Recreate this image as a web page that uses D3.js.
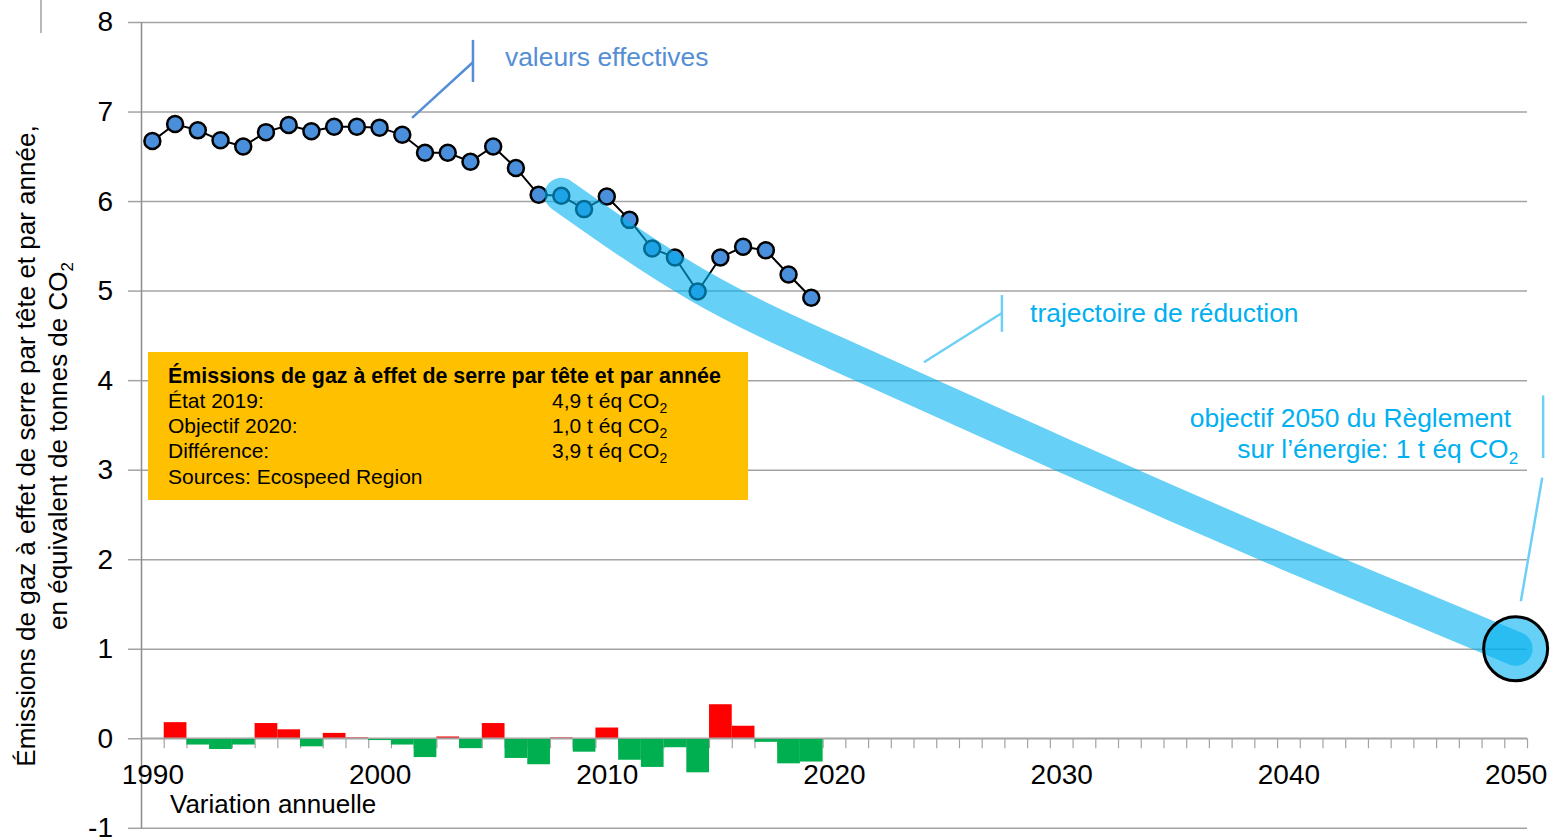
<!DOCTYPE html>
<html><head><meta charset="utf-8">
<script src="https://cdn.jsdelivr.net/npm/d3@7"></script>
<style>
body{margin:0;background:#fff}
svg{display:block;font-family:"Liberation Sans",Arial,sans-serif}
</style>
</head><body>
<svg id="c" width="1552" height="837"></svg>
<script>
// ---- data ----
const years = [1990,1991,1992,1993,1994,1995,1996,1997,1998,1999,2000,2001,2002,2003,2004,2005,2006,2007,2008,2009,2010,2011,2012,2013,2014,2015,2016,2017,2018,2019];
const emissions = [6.67,6.86,6.79,6.68,6.61,6.77,6.85,6.78,6.83,6.83,6.82,6.74,6.54,6.54,6.44,6.61,6.37,6.07,6.06,5.91,6.05,5.79,5.47,5.37,4.99,5.37,5.49,5.45,5.18,4.92];
const variationYears = [1991,1992,1993,1994,1995,1996,1997,1998,1999,2000,2001,2002,2003,2004,2005,2006,2007,2008,2009,2010,2011,2012,2013,2014,2015,2016,2017,2018,2019];
const variation = [0.18,-0.07,-0.12,-0.07,0.17,0.10,-0.09,0.06,0.01,-0.02,-0.07,-0.21,0.02,-0.11,0.17,-0.22,-0.29,0.01,-0.15,0.12,-0.24,-0.32,-0.10,-0.38,0.38,0.14,-0.04,-0.28,-0.26];
const trajYears = [2008,2011,2014,2017,2020,2025,2030,2035,2040,2045,2050];
const trajValues = [6.07,5.54,5.06,4.66,4.31,3.74,3.17,2.61,2.06,1.53,1.00];
const targetYear = 2050, targetValue = 1.0;
const yTicks = [-1,0,1,2,3,4,5,6,7,8];
const xLabelYears = [1990,2000,2010,2020,2030,2040,2050];
const legendTitle = "Émissions de gaz à effet de serre par tête et par année";
const legendLabels = ["État 2019:","Objectif 2020:","Différence:","Sources: Ecospeed Region"];
const legendValues = ["4,9 t éq CO","1,0 t éq CO","3,9 t éq CO",""];

// ---- scales ----
const svg = d3.select("#c");
const x = d3.scaleLinear().domain([1989.5, 2050.5]).range([141, 1527]);
const y = d3.scaleLinear().domain([-1, 8]).range([827.8, 22]);
const FONT = '"Liberation Sans",Arial,sans-serif';

// stray fragment at top-left
svg.append("line").attr("x1",41).attr("x2",41).attr("y1",0).attr("y2",33)
  .attr("stroke","#a0a0a0").attr("stroke-width",1.5);

// gridlines
const grid = svg.append("g").attr("transform","translate(141,0)")
  .call(d3.axisLeft(y).tickValues(yTicks).tickSize(-(1527-141)).tickFormat("").tickSizeOuter(0));
grid.select(".domain").remove();
grid.selectAll("line").attr("stroke","#a3a3a3").attr("stroke-width",1.5);

// y axis
const ya = svg.append("g").attr("transform","translate(141,0)")
  .call(d3.axisLeft(y).tickValues(yTicks).tickSize(13).tickPadding(15).tickSizeOuter(0).tickFormat(d=>String(d)));
ya.select(".domain").attr("stroke","#8c8c8c").attr("stroke-width",1.5);
ya.selectAll("line").attr("stroke","#a3a3a3").attr("stroke-width",1.5);
ya.selectAll("text").attr("font-size",28).attr("fill","#000").attr("font-family",FONT);

// x axis minor ticks at half years
const halfYears = d3.range(1990.5, 2051, 1);
const xt = svg.append("g").attr("transform",`translate(0,${y(0)})`)
  .call(d3.axisBottom(x).tickValues(halfYears).tickSize(10).tickFormat("").tickSizeOuter(0));
xt.select(".domain").remove();
xt.selectAll("line").attr("stroke","#a3a3a3").attr("stroke-width",1.2);

// bars
svg.append("g").selectAll("rect").data(variationYears).join("rect")
  .attr("x", d => x(d-0.5))
  .attr("width", d => x(d+0.5)-x(d-0.5))
  .attr("y", (d,i) => y(Math.max(variation[i],0)))
  .attr("height", (d,i) => Math.abs(y(variation[i])-y(0)))
  .attr("fill", (d,i) => variation[i] >= 0 ? "#ff0000" : "#00b050");

// zero line on top
svg.append("line").attr("x1",x(1989.5)).attr("x2",x(2050.5)).attr("y1",y(0)).attr("y2",y(0))
  .attr("stroke","#a3a3a3").attr("stroke-width",1.5);

// x labels
const xl = svg.append("g").attr("transform",`translate(0,${y(0)})`)
  .call(d3.axisBottom(x).tickValues(xLabelYears).tickSize(0).tickPadding(26).tickFormat(d=>String(d)));
xl.select(".domain").remove();
xl.selectAll("text").attr("font-size",28).attr("fill","#000").attr("font-family",FONT);

svg.append("text").attr("x",170).attr("y",813).attr("font-size",26).attr("fill","#000").text("Variation annuelle");

// y title
const yt = svg.append("g").attr("transform","translate(0,446) rotate(-90)")
  .attr("text-anchor","middle").attr("font-size",26).attr("fill","#000");
yt.append("text").attr("x",0).attr("y",35).text("Émissions de gaz à effet de serre par tête et par année,");
const yt2 = yt.append("text").attr("x",0).attr("y",67);
yt2.append("tspan").text("en équivalent de tonnes de CO");
yt2.append("tspan").attr("font-size",17).attr("dy",6).text("2");

// line + points
const line = d3.line().x((d,i)=>x(years[i])).y(d=>y(d));
svg.append("path").datum(emissions).attr("d",line).attr("fill","none")
  .attr("stroke","#000").attr("stroke-width",2);
svg.append("g").selectAll("circle").data(emissions).join("circle")
  .attr("cx",(d,i)=>x(years[i])).attr("cy",d=>y(d)).attr("r",8)
  .attr("fill","#4a8fdb").attr("stroke","#000").attr("stroke-width",2.5);

// trajectory band
const traj = d3.line().x((d,i)=>x(trajYears[i])).y(d=>y(d)).curve(d3.curveNatural);
svg.append("path").datum(trajValues).attr("d",traj).attr("fill","none")
  .attr("stroke","#00b0f0").attr("stroke-opacity",0.6).attr("stroke-width",34)
  .attr("stroke-linecap","round");

// target circle
svg.append("circle").attr("cx",x(targetYear)).attr("cy",y(targetValue)).attr("r",32)
  .attr("fill","#00b0f0").attr("fill-opacity",0.6).attr("stroke","#000").attr("stroke-width",3);

// annotations (data coordinates)
function seg(a,b,c,w){
  svg.append("line").attr("x1",x(a[0])).attr("y1",y(a[1])).attr("x2",x(b[0])).attr("y2",y(b[1]))
    .attr("stroke",c).attr("stroke-width",w);
}
const blueA = "#558ed5", lightA = "#6dd0f5", cyanT = "#00b0f0";
const AF = 26.4;
seg([2004.11,7.80],[2004.11,7.33],blueA,2.5);
seg([2001.43,6.93],[2004.11,7.55],blueA,2.5);
svg.append("text").attr("x",x(2005.52)).attr("y",y(7.51)).attr("font-size",AF).attr("fill",blueA).text("valeurs effectives");

seg([2027.39,4.95],[2027.39,4.54],lightA,2.5);
seg([2023.96,4.20],[2027.39,4.75],lightA,2.5);
svg.append("text").attr("x",x(2028.63)).attr("y",y(4.65)).attr("font-size",AF).attr("fill",cyanT).text("trajectoire de réduction");

seg([2051.21,3.83],[2051.21,3.13],lightA,2.5);
seg([2051.17,2.91],[2050.23,1.53],lightA,2.5);
svg.append("text").attr("x",x(2049.80)).attr("y",y(3.48)).attr("font-size",AF).attr("fill",cyanT)
  .attr("text-anchor","end").text("objectif 2050 du Règlement");
const ob2 = svg.append("text").attr("x",x(2050.11)).attr("y",y(3.13)).attr("font-size",AF).attr("fill",cyanT)
  .attr("text-anchor","end");
ob2.append("tspan").text("sur l’énergie: 1 t éq CO");
ob2.append("tspan").attr("font-size",17).attr("dy",6).text("2");

// legend box
const lg = svg.append("g");
lg.append("rect").attr("x",148).attr("y",352).attr("width",600).attr("height",148).attr("fill","#ffc000");
lg.append("text").attr("x",168).attr("y",383).attr("font-size",21.4).attr("font-weight","bold").attr("fill","#000").text(legendTitle);
legendLabels.forEach((l,i)=>{
  const yy = 408 + i*25.2;
  lg.append("text").attr("x",168).attr("y",yy).attr("font-size",21).attr("fill","#000").text(l);
  if (legendValues[i]) {
    const t = lg.append("text").attr("x",552).attr("y",yy).attr("font-size",21).attr("fill","#000");
    t.append("tspan").text(legendValues[i]);
    t.append("tspan").attr("font-size",14).attr("dy",5).text("2");
  }
});
</script>
</body></html>
